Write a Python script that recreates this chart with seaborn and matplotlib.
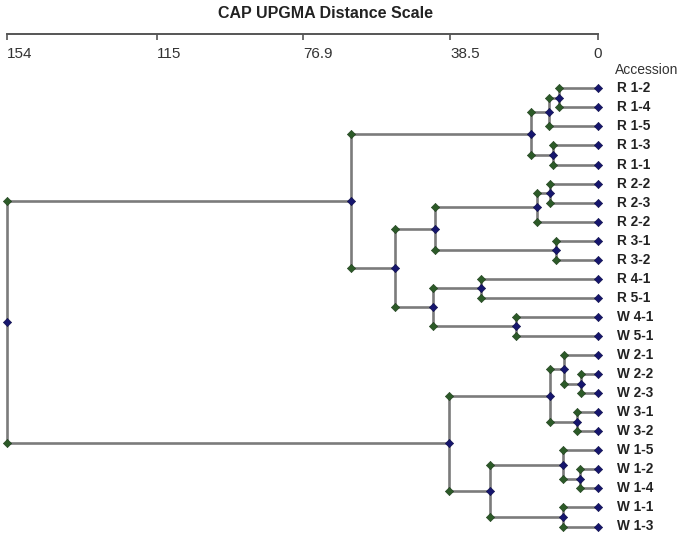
import matplotlib
matplotlib.use("Agg")
import matplotlib.pyplot as plt
import seaborn as sns
import pandas as pd
import numpy as np

# leaves, top to bottom
leaf_labels = ["R 1-2", "R 1-4", "R 1-5", "R 1-3", "R 1-1", "R 2-2", "R 2-3", "R 2-2",
               "R 3-1", "R 3-2", "R 4-1", "R 5-1", "W 4-1", "W 5-1", "W 2-1", "W 2-2",
               "W 2-3", "W 3-1", "W 3-2", "W 1-5", "W 1-2", "W 1-4", "W 1-1", "W 1-3"]

# merges: ids < 24 are leaves, merge k gets id 24 + k
merge_left = [15, 20, 17, 14, 19, 22, 0, 8, 3, 27, 5, 30, 34, 35, 12, 28, 10, 33, 36, 40, 42, 37, 45]
merge_right = [16, 21, 18, 24, 25, 23, 1, 9, 4, 26, 6, 2, 7, 32, 13, 29, 11, 39, 31, 38, 43, 44, 41]
merge_height = [4.4, 4.6, 5.5, 8.9, 9.2, 9.2, 10.1, 10.9, 11.6, 12.4, 12.5, 12.8, 16.0, 17.5,
                21.4, 28.1, 30.6, 38.7, 42.5, 43.1, 52.9, 64.4, 154.0]

scale_ticks = [154, 115, 76.9, 38.5, 0]
scale_labels = ["154", "115", "76.9", "38.5", "0"]


def build_tree(n):
    pos_d = {i: 0.0 for i in range(n)}
    pos_y = {i: float(i) for i in range(n)}
    segs, marks = [], []
    for k, (l, r, h) in enumerate(zip(merge_left, merge_right, merge_height)):
        nid = n + k
        yl, yr = pos_y[l], pos_y[r]
        for d, y in [(pos_d[l], yl), (h, yl), (h, yr), (pos_d[r], yr)]:
            segs.append({"unit": nid, "d": d, "y": y})
        pos_d[nid] = h
        pos_y[nid] = (yl + yr) / 2
        marks.append({"kind": "end", "d": h, "y": yl})
        marks.append({"kind": "end", "d": h, "y": yr})
        marks.append({"kind": "node", "d": h, "y": pos_y[nid]})
    for i in range(n):
        marks.append({"kind": "node", "d": 0.0, "y": float(i)})
    return pd.DataFrame(segs), pd.DataFrame(marks)


def main():
    sns.set_style("white")
    plt.rcParams["font.family"] = ["Liberation Sans", "DejaVu Sans"]
    W, H = 685, 533
    fig = plt.figure(figsize=(W / 100, H / 100), dpi=100)

    n = len(leaf_labels)
    seg_df, mark_df = build_tree(n)

    top_px, bot_px = 88.3, 526.5
    ax = fig.add_axes([7 / W, 1 - bot_px / H, 591 / W, (bot_px - top_px) / H])
    sns.lineplot(data=seg_df, x="d", y="y", units="unit", estimator=None, sort=False,
                 color="#7b7b7b", lw=1.9, ax=ax, clip_on=False, zorder=1)
    ends = mark_df[mark_df["kind"] == "end"]
    nodes = mark_df[mark_df["kind"] == "node"]
    sns.scatterplot(data=ends, x="d", y="y", color="#2c5a28", marker="D", s=18,
                    edgecolor="#1c3a1a", linewidth=0.4, ax=ax, clip_on=False, zorder=3)
    sns.scatterplot(data=nodes, x="d", y="y", color="#16166e", marker="D", s=18,
                    edgecolor="#0c0c45", linewidth=0.4, ax=ax, clip_on=False, zorder=4)
    ax.set_xlim(154, 0)
    ax.set_ylim(n - 1, 0)
    ax.set_axis_off()
    for i, lab in enumerate(leaf_labels):
        ax.annotate(lab, (0, i), xytext=(14, 0), textcoords="offset points",
                    ha="left", va="center", fontsize=9.8, fontweight="bold", color="#222222")

    # distance scale
    sax = fig.add_axes([7 / W, 1 - 34 / H, 591 / W, 1e-4])
    sax.set_xlim(154, 0)
    sax.set_yticks([])
    for s in ["top", "left", "right"]:
        sax.spines[s].set_visible(False)
    sax.spines["bottom"].set_color("#555555")
    sax.spines["bottom"].set_linewidth(1.4)
    sax.set_xticks(scale_ticks)
    sax.set_xticklabels(scale_labels,
                        family=["Liberation Sans Narrow", "DejaVu Sans Condensed", "Liberation Sans"],
                        fontsize=11, color="#333333")
    sax.tick_params(axis="x", bottom=True, direction="out", length=4.5, width=1.2,
                    color="#555555", pad=5)
    for t in sax.get_xticklabels()[:-1]:
        t.set_horizontalalignment("left")
    sax.set_facecolor("none")

    fig.text(325 / W, 1 - 14 / H, "CAP UPGMA Distance Scale", ha="center", va="center",
             fontsize=11.5, fontweight="bold", color="#222222")
    fig.text(615 / W, 1 - 70 / H, "Accession", ha="left", va="center",
             fontsize=10, color="#333333")

    fig.savefig("out.png", dpi=100, facecolor="white")


if __name__ == "__main__":
    main()
